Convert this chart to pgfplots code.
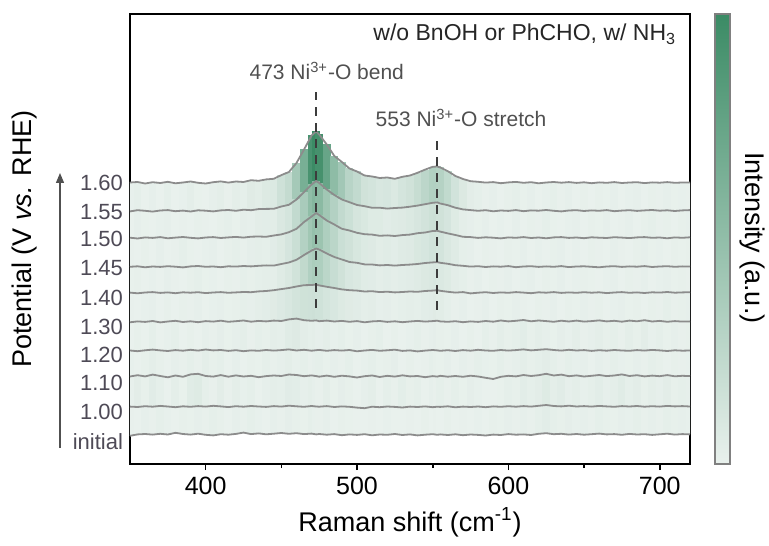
\documentclass[border=0pt]{standalone}
\usepackage{fontspec}
\setmainfont{Liberation Sans}
\usepackage{pgfplots}
\usepackage{pgfplotstable}
\pgfplotsset{compat=1.18}
\usetikzlibrary{arrows.meta}
\definecolor{curve}{HTML}{8C8C8C}
\definecolor{lab}{HTML}{4E4A56}
\definecolor{dashc}{HTML}{3C3C3C}
\definecolor{ann}{HTML}{505050}

% s0=initial s1=1.00 s2=1.10 s3=1.20 s4=1.30 s5=1.40 s6=1.45 s7=1.50 s8=1.55 s9=1.60
\pgfplotstableread{
x s0 s1 s2 s3 s4 s5 s6 s7 s8 s9
350 -0.8 0.4 0.5 0.5 -0.3 0.4 0.2 0.3 -0.4 0.5
355 0.6 0.0 1.8 -0.2 0.6 -0.3 0.7 -0.5 0.8 1.0
360 1.0 0.8 0.6 0.7 0.1 0.5 -0.3 0.6 0.2 -0.5
365 0.4 0.3 2.4 1.4 1.0 0.9 0.5 0.1 -0.6 0.8
370 1.2 1.1 1.0 0.6 -0.4 0.1 0.1 0.9 0.5 0
375 0.5 0.5 -0.3 0.0 0.5 0.6 0.8 -0.3 0.9 1.2
380 2.2 -0.2 1.5 0.9 1.2 -0.2 0.3 0.4 -0.2 -0.3
385 1.0 0.7 0.2 0.3 0.0 0.7 -0.4 1.0 0.4 0.5
390 0.4 0.2 2.6 1.2 0.7 0.3 0.6 0.2 -0.5 1.5
395 1.3 0.9 3.2 0.4 -0.2 0.8 1.0 -0.4 0.7 0.2
400 0.2 0.4 1.0 1.5 0.9 -0.1 0.2 0.5 0.3 -0.5
405 -0.4 1.2 0.4 0.6 0.4 0.5 0.5 0.9 -0.4 0.8
410 0.8 0.6 1.9 1.0 1.3 0.9 -0.2 0.0 0.6 1.6
415 0.3 -0.1 0.3 0.1 0.2 0.2 0.7 0.6 1.0 0.4
420 1.1 0.8 1.6 0.8 0.8 0.6 0.4 1.1 0.2 1.5
425 2.4 0.3 0.5 -0.2 1.5 1.0 1.0 0.4 1.3 1.0
430 0.9 1.0 1.2 0.6 0.3 0.8 0.6 1.3 0.8 2.8
435 1.6 0.5 -0.2 0.2 1.1 1.6 1.2 1.5 1.9 2.2
440 0.7 0.1 0.9 1.0 0.6 2.0 1.6 1.2 2.1 3.6
445 1.3 0.9 1.5 0.4 1.4 2.8 1.4 2.5 2.2 4.2
450 2.0 0.4 1.0 0.9 1.0 3.9 3.0 3.6 4.5 7.9
455 1.2 1.3 2.5 1.6 2.6 5.0 4.5 5.8 6.2 11.0
460 1.8 0.7 2.0 0.5 3.4 6.5 7.2 9.2 11.5 20.0
465 0.9 0.2 0.8 1.2 1.8 7.8 12.0 16.0 19.0 33.5
470 1.4 1.0 1.6 0.3 1.2 8.0 16.5 21.5 26.5 47.5
473 0.6 0.5 0.9 0.8 1.6 8.4 18.5 25.0 30.0 51.5
475 1.0 0.3 0.3 1.1 0.8 7.6 17.5 23.0 28.0 48.5
480 0.3 0.9 1.4 0.2 1.4 6.2 13.5 17.5 21.5 38.5
485 0.9 0.0 0.2 0.9 0.5 5.0 10.0 13.5 16.0 27.0
490 -0.2 0.6 1.3 0.4 1.1 3.6 7.5 9.2 11.5 21.0
495 0.6 0.2 0.6 1.0 0.2 2.8 5.0 7.5 8.8 14.5
500 0.1 -0.6 -0.5 -0.3 0.9 2.4 4.2 5.2 6.0 11.5
505 0.8 -1.2 0.8 0.5 -0.3 1.5 2.6 3.8 4.8 7.5
510 -0.3 0.3 1.5 1.1 0.6 1.8 2.5 3.4 3.2 6.5
515 0.5 -0.2 0.0 0.2 1.0 0.9 1.6 2.2 3.3 5.0
520 0.2 0.5 1.2 0.7 0.1 1.3 2.0 2.6 2.4 5.5
525 1.0 0.1 0.4 1.3 0.7 0.6 1.4 2.0 3.0 4.2
530 0.0 -0.5 1.7 0.1 -0.2 1.0 2.0 2.9 3.4 6.2
535 0.6 0.4 0.6 0.6 0.5 1.5 2.4 3.4 4.3 7.5
540 -0.4 0.0 1.0 -0.4 1.1 1.2 3.0 4.8 5.4 10.2
545 0.3 0.6 -0.2 0.4 0.4 2.0 4.0 5.5 6.8 13.4
550 0.8 -0.2 0.9 1.0 0.9 2.4 4.6 7.0 8.2 16.2
553 0.2 0.3 0.4 0.6 1.3 2.8 4.9 7.2 8.6 16.5
555 0.6 0.1 1.2 0.2 0.6 2.2 4.2 6.4 7.5 15.5
560 0.0 0.7 0.3 0.8 0.2 1.2 3.2 4.6 5.8 11.8
565 0.7 -0.3 1.0 0.0 0.8 0.4 1.8 3.0 3.3 7.0
570 -0.2 0.4 0.2 0.9 -0.2 0.9 1.2 1.2 1.6 4.0
575 0.5 0.0 1.3 0.3 0.6 -0.4 0.4 0.9 0.9 1.8
580 0.1 0.5 0.5 1.2 0.1 0.3 0.8 0.1 0.2 1.2
585 -0.5 -0.2 -0.8 0.5 1.0 0.8 0.0 0.7 0.8 0.4
590 0.4 0.6 -2.0 0.2 0.3 0.0 0.6 0.3 -0.3 0.9
595 0.0 0.2 0.2 1.0 1.5 0.6 0.3 -0.4 0.5 -0.2
600 0.9 0.8 1.2 0.4 0.6 0.2 0.9 0.6 0.1 0.6
605 0.3 0.3 0.6 0.9 1.2 0.9 -0.2 0.2 0.9 1.1
610 0.6 0.9 2.0 1.6 2.0 0.4 0.5 0.9 -0.2 0.2
615 0.0 0.4 1.0 0.6 0.7 -0.2 0.8 0.0 0.6 0.8
620 1.2 1.2 1.8 1.2 1.5 0.7 0.1 0.5 0.3 -0.3
625 1.8 2.0 3.2 1.8 0.9 0.3 0.6 -0.3 1.0 0.5
630 0.8 1.0 1.5 1.0 0.2 0.9 0.2 0.6 0.2 1.0
635 1.2 0.6 2.4 0.4 1.3 0.1 0.9 0.9 -0.4 0.3
640 0.4 1.3 0.8 1.2 0.5 0.6 -0.1 0.1 0.5 0.9
645 1.0 0.5 1.6 0.5 1.4 0.2 0.5 0.5 0.8 0.1
650 0.3 0.9 0.5 0.9 0.4 0.8 0.7 -0.2 0.0 0.7
655 0.8 0.4 1.2 0.1 0.9 0.3 0.2 0.7 0.6 -0.2
660 1.4 1.1 2.0 0.8 1.6 0.7 -0.3 0.3 0.2 0.6
665 0.6 0.6 0.9 0.3 0.6 -0.1 0.5 0.0 0.9 0.2
670 0.9 0.2 1.5 1.0 1.2 0.5 0.8 0.8 -0.2 0.9
675 0.2 0.9 2.6 0.5 0.3 0.9 0.1 0.4 0.4 0.0
680 1.1 0.5 1.0 0.2 1.4 0.2 0.6 -0.1 0.8 0.5
685 0.5 1.0 1.8 0.9 0.7 0.6 0.3 0.6 0.1 0.8
690 0.8 0.3 0.6 0.4 1.8 0.0 0.9 0.9 0.6 -0.1
695 0.1 0.8 1.4 1.1 0.5 0.7 0.0 0.2 1.0 0.6
700 0.7 0.4 0.8 0.6 1.1 0.4 0.5 0.5 0.3 0.3
705 1.3 1.1 1.9 0.0 0.2 1.0 0.8 -0.3 0.7 0.9
710 0.4 0.6 0.7 0.7 0.9 0.3 0.2 0.6 0.0 0.2
715 0.9 0.9 1.2 0.3 0.4 0.6 0.6 0.2 0.6 0.5
720 0.6 0.5 0.9 0.5 0.6 0.8 0.4 0.7 0.9 0.4
}\spec

\pgfplotsset{
  fillstrip/.style={no markers,
    quiver={u=0, v={#1}, colored=mapped color,
      every arrow/.append style={line width=4pt, line cap=butt}}},
  spec/.style={curve, line width=0.9pt, no markers},
}

\begin{document}
\begin{tikzpicture}
\useasboundingbox (-65pt,-40.5pt) rectangle (319.5pt,232pt);
\begin{axis}[
  name=ax, at={(0,0)}, anchor=south west,
  width=280pt, height=225pt, scale only axis,
  xmin=350, xmax=720, ymin=0, ymax=450,
  xtick={400,500,600,700}, minor xtick={450,550,650},
  tick align=outside, xtick pos=bottom, ytick pos=left,
  major tick length=3pt, minor tick length=2pt,
  ytick={22,52,81,109,137,166,196,225,252,281},
  yticklabels={initial,1.00,1.10,1.20,1.30,1.40,1.45,1.50,1.55,1.60},
  y tick style={draw=none},
  yticklabel style={font=\fontsize{11}{13}\selectfont, text=lab, xshift=3pt},
  xticklabel style={font=\fontsize{12.5}{15}\selectfont},
  /pgf/number format/assume math mode=true,
  axis line style={line width=1pt},
  x tick style={line width=0.8pt, black},
  xlabel={Raman shift (cm\textsuperscript{-1})},
  ylabel={Potential (V \textit{vs.} RHE)},
  label style={font=\fontsize{13.5}{16}\selectfont},
  xlabel style={at={(axis description cs:0.5,-0.13)}, anchor=center},
  ylabel style={at={(axis description cs:-0.189,0.5)}, anchor=center},
  colormap={gr}{rgb255=(233,241,237) rgb255=(59,139,101)},
  point meta min=0, point meta max=52,
  colorbar,
  colorbar style={at={(parent axis.north east)}, anchor=north west,
    xshift=4pt, width=7.5pt, scale only axis, ytick=\empty,
    axis line style={draw=gray, line width=0.7pt}},
  clip mode=individual,
]
% colour-mapped fills between neighbouring spectra
\addplot[fillstrip={\thisrow{s9}+281-\thisrow{s8}-253}, point meta=\thisrow{s9}] table[x=x, y expr={\thisrow{s8}+253}] {\spec};
\addplot[fillstrip={\thisrow{s8}+253-\thisrow{s7}-226}, point meta=\thisrow{s8}] table[x=x, y expr={\thisrow{s7}+226}] {\spec};
\addplot[fillstrip={\thisrow{s7}+226-\thisrow{s6}-197}, point meta=\thisrow{s7}] table[x=x, y expr={\thisrow{s6}+197}] {\spec};
\addplot[fillstrip={\thisrow{s6}+197-\thisrow{s5}-171}, point meta=\thisrow{s6}] table[x=x, y expr={\thisrow{s5}+171}] {\spec};
\addplot[fillstrip={\thisrow{s5}+171-\thisrow{s4}-142}, point meta=\thisrow{s5}] table[x=x, y expr={\thisrow{s4}+142}] {\spec};
\addplot[fillstrip={\thisrow{s4}+142-\thisrow{s3}-113}, point meta=\thisrow{s4}] table[x=x, y expr={\thisrow{s3}+113}] {\spec};
\addplot[fillstrip={\thisrow{s3}+113-\thisrow{s2}-87}, point meta=\thisrow{s3}] table[x=x, y expr={\thisrow{s2}+87}] {\spec};
\addplot[fillstrip={\thisrow{s2}+87-\thisrow{s1}-57}, point meta=\thisrow{s2}] table[x=x, y expr={\thisrow{s1}+57}] {\spec};
\addplot[fillstrip={\thisrow{s1}+57-\thisrow{s0}-29}, point meta=\thisrow{s1}] table[x=x, y expr={\thisrow{s0}+29}] {\spec};
% spectra
\addplot[spec] table[x=x, y expr={\thisrow{s9}+281}] {\spec};
\addplot[spec] table[x=x, y expr={\thisrow{s8}+253}] {\spec};
\addplot[spec] table[x=x, y expr={\thisrow{s7}+226}] {\spec};
\addplot[spec] table[x=x, y expr={\thisrow{s6}+197}] {\spec};
\addplot[spec] table[x=x, y expr={\thisrow{s5}+171}] {\spec};
\addplot[spec] table[x=x, y expr={\thisrow{s4}+142}] {\spec};
\addplot[spec] table[x=x, y expr={\thisrow{s3}+113}] {\spec};
\addplot[spec] table[x=x, y expr={\thisrow{s2}+87}] {\spec};
\addplot[spec] table[x=x, y expr={\thisrow{s1}+57}] {\spec};
\addplot[spec] table[x=x, y expr={\thisrow{s0}+29}] {\spec};
% peak markers
\draw[dashc, line width=1pt, dash pattern=on 4.5pt off 3.5pt] (axis cs:473,156) -- (axis cs:473,372);
\draw[dashc, line width=1pt, dash pattern=on 4.5pt off 3.5pt] (axis cs:553,154) -- (axis cs:553,324);
\node[anchor=base, text=ann, font=\fontsize{10.5}{12}\selectfont] at (axis cs:480,384) {473 Ni\textsuperscript{3+}-O bend};
\node[anchor=base, text=ann, font=\fontsize{10.5}{12}\selectfont] at (axis cs:568.7,337) {553 Ni\textsuperscript{3+}-O stretch};
\node[anchor=base east, text=black!85, font=\fontsize{11.5}{13}\selectfont] at (axis cs:715.5,423) {w/o BnOH or PhCHO, w/ NH\textsubscript{3}};
\end{axis}
\draw[ann, line width=0.6pt, -{Triangle[length=5pt,width=4pt]}] (-35pt,8pt) -- (-35pt,145.5pt);
\node[rotate=-90, font=\fontsize{13.5}{16}\selectfont] at (311pt,113pt) {Intensity (a.u.)};
\end{tikzpicture}
\end{document}
